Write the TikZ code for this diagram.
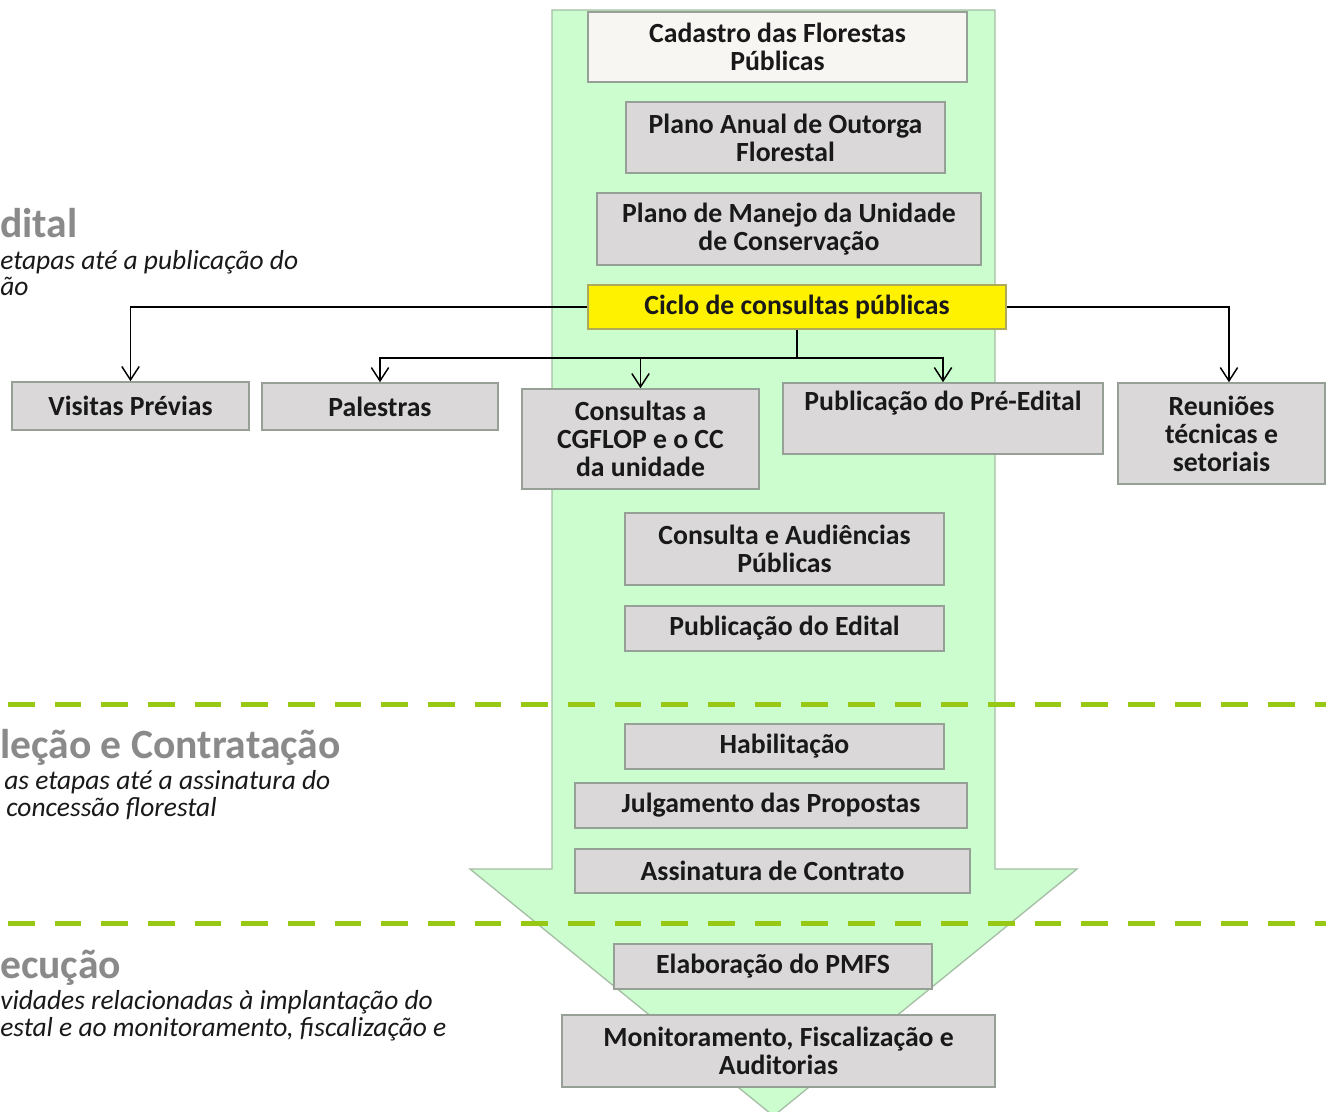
\documentclass[tikz,border=0pt]{standalone}
\usepackage{fontspec}
\setmainfont{Carlito}
\usetikzlibrary{arrows.meta}
\definecolor{mint}{RGB}{204,253,206}
\definecolor{mintline}{RGB}{165,190,165}
\definecolor{boxfill}{RGB}{218,216,216}
\definecolor{cadfill}{RGB}{248,246,243}
\definecolor{boxline}{RGB}{150,160,150}
\definecolor{cicloline}{RGB}{175,170,90}
\definecolor{dashgreen}{RGB}{150,200,20}
\definecolor{headgrey}{RGB}{138,138,138}
\definecolor{txt}{RGB}{25,25,25}
\begin{document}
\begin{tikzpicture}[x=0.75pt,y=-0.75pt,
  box/.style={draw=boxline, fill=boxfill, line width=1.2pt, inner sep=0pt, align=center,
    font=\fontsize{20.8}{21}\selectfont\bfseries, text=txt},
  conn/.style={draw=black, line width=1.1pt, -{Straight Barb[length=10pt,width=13pt]}},
  link/.style={draw=black, line width=1.1pt},
  head/.style={anchor=base west, inner sep=0pt, text=headgrey, font=\fontsize{31.2}{32}\selectfont\bfseries},
  sub/.style={anchor=base west, inner sep=0pt, text=txt, font=\fontsize{20.6}{21}\selectfont\itshape},
  sep/.style={draw=dashgreen, line width=3.75pt, dash pattern=on 20pt off 15pt},
  bigarrow/.style={draw=mintline, fill=mint, line width=1pt}]
\path[use as bounding box, clip] (0,0) rectangle (1326,1111);
% big arrow
\path[bigarrow] (552,10) -- (995,10) -- (995,869) -- (1077,869) -- (773.5,1116) -- (470,869) -- (552,869) -- cycle;
% separators
\path[sep] (-38.7,704) -- (1340,704);
\path[sep] (-38.7,923) -- (1340,923);
% left labels
\node[head] (h1) at (0,237) {dital};
\node[sub] (s1a) at (0,269) {etapas até a publicação do};
\node[sub] (s1b) at (0,295) {ão};
\node[head] (h2) at (0,758) {leção e Contratação};
\node[sub] (s2a) at (4,789) {as etapas até a assinatura do};
\node[sub] (s2b) at (6,816) {concessão florestal};
\node[head] (h3) at (0,978) {ecução};
\node[sub] (s3a) at (0,1009) {vidades relacionadas à implantação do};
\node[sub] (s3b) at (0,1036) {estal e ao monitoramento, fiscalização e};
% boxes
\node[box, fill=cadfill, minimum width=284.25pt, minimum height=52.5pt] (cad) at (777.5,47) {Cadastro das Florestas\\Públicas};
\node[box, minimum width=239.25pt, minimum height=53.25pt] (paof) at (785.5,137.5) {Plano Anual de Outorga\\Florestal};
\node[box, minimum width=288pt, minimum height=54pt] (manejo) at (789,229) {Plano de Manejo da Unidade\\de Conservação};
\node[box, fill=yellow, draw=cicloline, minimum width=313.5pt, minimum height=33pt] (ciclo) at (797,307) {Ciclo de consultas públicas};
\node[box, minimum width=177.75pt, minimum height=36pt] (vis) at (130.5,406) {Visitas Prévias};
\node[box, minimum width=177pt, minimum height=35.25pt] (pal) at (380,406.5) {Palestras};
\node[box, minimum width=177.75pt, minimum height=75pt] (cons) at (640.5,439) {Consultas a\\CGFLOP e o CC\\da unidade};
\node[box, minimum width=240pt, minimum height=53.25pt] (pre) at (943,418.5) {Publicação do Pré-Edital\\\strut};
\node[box, minimum width=155.25pt, minimum height=75.75pt] (reun) at (1221.5,433.5) {Reuniões\\técnicas e\\setoriais};
\node[box, minimum width=239.25pt, minimum height=54pt] (aud) at (784.5,549) {Consulta e Audiências\\Públicas};
\node[box, minimum width=239.25pt, minimum height=33.75pt] (pedital) at (784.5,628.5) {Publicação do Edital};
\node[box, minimum width=239.25pt, minimum height=33.75pt] (hab) at (784.5,746.5) {Habilitação};
\node[box, minimum width=294pt, minimum height=33.75pt] (julg) at (771,805.5) {Julgamento das Propostas};
\node[box, minimum width=296.25pt, minimum height=33pt] (ass) at (772.5,871) {Assinatura de Contrato};
\node[box, minimum width=238.5pt, minimum height=33.75pt] (pmfs) at (773,966.5) {Elaboração do PMFS};
\node[box, minimum width=324.75pt, minimum height=54pt] (mon) at (778.5,1051) {Monitoramento, Fiscalização e\\Auditorias};
% connectors
\coordinate (split) at (797,358);
\path[link] (ciclo.south) -- (split);
\path[conn] (split) -| (pal.north);
\path[conn] (split) -| (cons.north);
\path[conn] (split) -| (pre.north);
\path[conn] (ciclo.west) -| (vis.north);
\path[conn] (ciclo.east) -| ([xshift=5.6pt]reun.north);
\end{tikzpicture}
\end{document}
